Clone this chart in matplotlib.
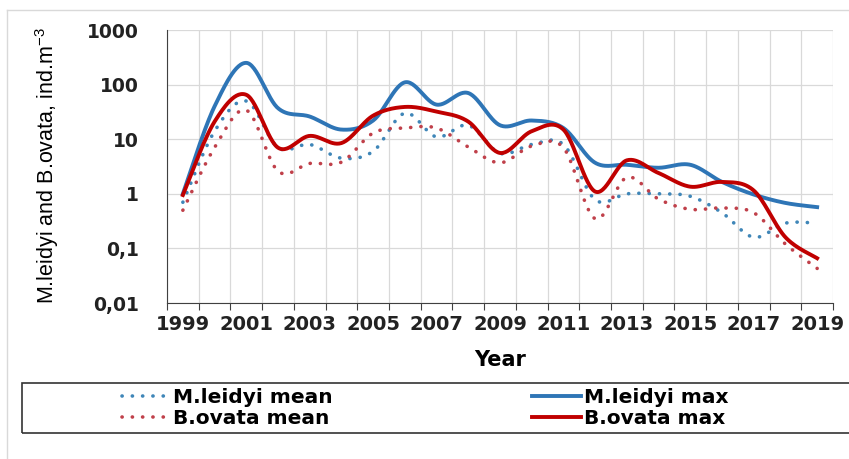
import numpy as np
import matplotlib.pyplot as plt
from matplotlib.lines import Line2D
from matplotlib.patches import Rectangle

plt.rcParams["mathtext.default"] = "regular"

# Datos
years = list(range(1999, 2020))
ml_mean = [0.7, 14, 50, 7, 8, 4.5, 6, 30, 11, 18, 5.5, 8, 8, 0.78, 1.0, 1.0, 0.9, 0.45, 0.16, 0.29, 0.29]
ml_max = [1.0, 40, 250, 37, 26, 15, 22, 110, 43, 70, 18, 22, 16, 3.7, 3.4, 3.0, 3.4, 1.65, 0.97, 0.68, 0.57]
bo_mean = [0.5, 7, 34, 2.6, 3.6, 3.8, 13, 16, 16, 7.2, 3.7, 7.5, 7, 0.35, 2.0, 0.8, 0.52, 0.55, 0.45, 0.12, 0.043]
bo_max = [0.95, 21, 65, 7, 11.5, 8.5, 27, 39, 32, 21, 5.6, 14, 15, 1.1, 4.1, 2.4, 1.35, 1.65, 1.15, 0.16, 0.066]

ytick_vals = [0.01, 0.1, 1, 10, 100, 1000]
ytick_labels = ["0,01", "0,1", "1", "10", "100", "1000"]

blue = "#2E75B6"
red = "#C00000"
blue_dot = "#3F86B8"
red_dot = "#C0404A"


# Suavizado tipo Excel (Bezier cubica, como Catmull-Rom) en escala log
def suavizar(vals, n=30):
    x = np.arange(len(vals), dtype=float)
    y = np.log10(np.array(vals, dtype=float))
    xs, ys = [], []
    for i in range(len(x) - 1):
        i0 = max(i - 1, 0)
        i3 = min(i + 2, len(x) - 1)
        p0 = np.array([x[i], y[i]])
        p3 = np.array([x[i + 1], y[i + 1]])
        c1 = p0 + (p3 - np.array([x[i0], y[i0]])) / 6
        c2 = p3 - (np.array([x[i3], y[i3]]) - p0) / 6
        t = np.linspace(0, 1, n)[:, None]
        b = (1 - t)**3 * p0 + 3 * (1 - t)**2 * t * c1 + 3 * (1 - t) * t**2 * c2 + t**3 * p3
        xs.extend(b[:, 0])
        ys.extend(b[:, 1])
    return np.array(xs), 10**np.array(ys)


fig = plt.figure(figsize=(8.49, 4.59), dpi=100)
ax = fig.add_axes([167 / 849, 1 - 303 / 459, 666 / 849, 273 / 459])

dots = (0, (0.05, 2.8))
x, y = suavizar(ml_mean)
ax.plot(x, y, color=blue_dot, lw=2.6, linestyle=dots, dash_capstyle="round", label="M.leidyi mean")
x, y = suavizar(bo_mean)
ax.plot(x, y, color=red_dot, lw=2.6, linestyle=dots, dash_capstyle="round", label="B.ovata mean")
x, y = suavizar(ml_max)
ax.plot(x, y, color=blue, lw=2.8, label="M.leidyi max")
x, y = suavizar(bo_max)
ax.plot(x, y, color=red, lw=2.8, label="B.ovata max")

ax.set_yscale("log")
ax.set_ylim(0.01, 1000)
ax.set_xlim(-0.5, len(years) - 0.5)
ax.set_yticks(ytick_vals)
ax.set_yticklabels(ytick_labels)
ax.minorticks_off()
ax.tick_params(axis="y", length=0, pad=20, labelsize=13.5)
for lab in ax.get_yticklabels():
    lab.set_fontweight("bold")
    lab.set_color("#222222")

# ticks entre categorias, etiquetas cada dos anios
ax.set_xticks(np.arange(-0.5, len(years), 1.0))
ax.set_xticklabels([])
ax.set_xticks(np.arange(0, len(years), 2), minor=True)
ax.set_xticklabels([str(a) for a in years[::2]], minor=True)
ax.tick_params(axis="x", which="major", direction="out", length=5, color="#404040")
ax.tick_params(axis="x", which="minor", length=0, pad=9, labelsize=14)
for lab in ax.get_xticklabels(minor=True):
    lab.set_fontweight("bold")
    lab.set_color("#222222")

ax.grid(True, which="major", color="#D9D9D9", lw=0.9)
ax.set_axisbelow(True)
for s in ["top", "right"]:
    ax.spines[s].set_visible(False)
ax.spines["left"].set_color("#404040")
ax.spines["bottom"].set_color("#404040")

fig.text(500 / 849, 1 - 360 / 459, "Year", ha="center", va="center", fontsize=15, fontweight="bold")
fig.text(47 / 849, 1 - 166 / 459, "M.leidyi and B.ovata, ind.m$^{-3}$", rotation=90,
         ha="center", va="center", fontsize=15.5, family="Liberation Sans")

# borde exterior del grafico
fig.add_artist(Line2D([7 / 849, 7 / 849], [0, 1 - 10 / 459], color="#D9D9D9", lw=1))
fig.add_artist(Line2D([7 / 849, 1], [1 - 10 / 459, 1 - 10 / 459], color="#D9D9D9", lw=1))

# leyenda
fig.add_artist(Rectangle((22 / 849, 1 - 433 / 459), 840 / 849, 50 / 459, fill=False,
                         edgecolor="#333333", lw=1.2, transform=fig.transFigure))
fig.legend(loc="center left", bbox_to_anchor=(122 / 849, 1 - 408 / 459), ncol=2, frameon=False,
           borderpad=0, borderaxespad=0, handlelength=2.4, handletextpad=0.15, columnspacing=9.9,
           labelspacing=0.1, prop={"weight": "bold", "size": 14.5})

fig.savefig("out.png", dpi=100)
